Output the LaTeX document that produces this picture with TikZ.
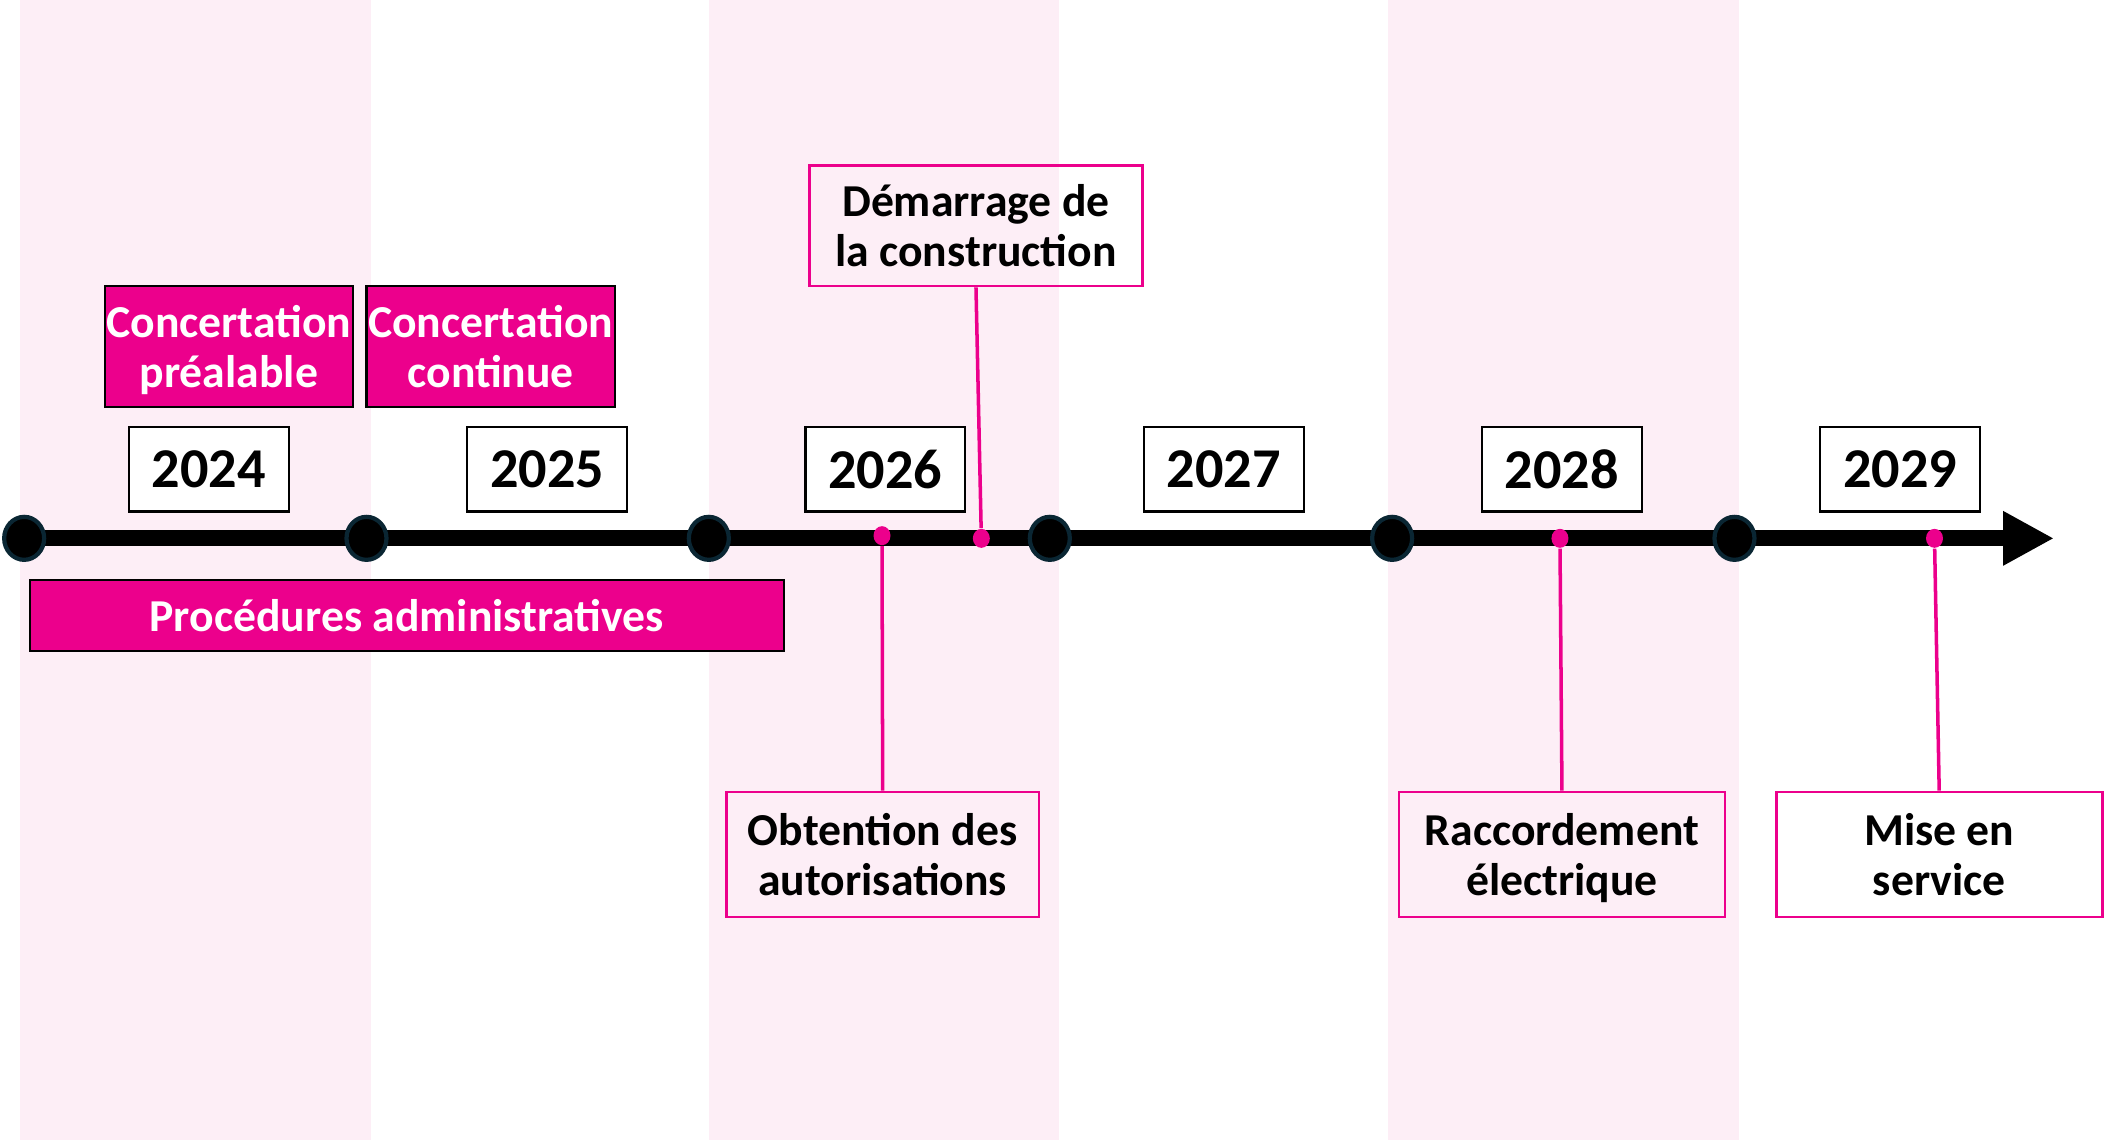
\documentclass[tikz,border=0pt]{standalone}
\usepackage{fontspec}
\setmainfont{Carlito}
\usetikzlibrary{arrows.meta,shapes.geometric}
\definecolor{rosevif}{RGB}{236,0,140}
\definecolor{rosepale}{RGB}{253,238,246}
\definecolor{nuit}{RGB}{10,38,51}
\newcommand\ligne{\rule[-0.18\baselineskip]{0pt}{0.99\baselineskip}}
\begin{document}
\begin{tikzpicture}[x=0.013425cm, y=-0.013425cm,
    annee/.style={draw=black, fill=white, line width=0.6pt, minimum width=1.598cm, minimum height=0.846cm, inner sep=0pt, font=\fontsize{16}{18}\selectfont\bfseries},
    phase/.style={draw=black, fill=rosevif, text=white, line width=0.6pt, align=center, inner sep=0pt, font=\fontsize{13}{14.2}\selectfont\bfseries},
    jalon/.style={draw=rosevif, line width=0.8pt, align=center, inner sep=0pt, font=\fontsize{13}{14.2}\selectfont\bfseries},
    grospoint/.style={ellipse, fill=black, draw=nuit, line width=1.2pt, minimum width=0.40cm, minimum height=0.43cm, inner sep=0pt},
    petitpoint/.style={ellipse, fill=rosevif, minimum width=0.17cm, minimum height=0.19cm, inner sep=0pt},
    lien/.style={draw=rosevif, line width=1pt}]
  \useasboundingbox (0,0) rectangle (1568,849);
  \foreach \x in {15,528,1034}
    \fill[rosepale] (\x,0) rectangle ++(261,849);
  \draw[line width=4.6pt, -{Triangle[length=0.51cm,width=0.51cm]}] (18,401) -- (1530,401);
  \foreach \x [count=\i] in {18,273,528,782,1037,1292}
    \node[grospoint] (g\i) at (\x,401) {};
  \foreach \an [count=\i from 0] in {2024,...,2029}
    \node[annee] (a\an) at (155.5+252*\i,349.5) {\an};
  % phases
  \node[phase, minimum width=2.484cm, minimum height=1.208cm] (prealable) at (170.5,258) {\ligne Concertation\\\ligne préalable};
  \node[phase, minimum width=2.484cm, minimum height=1.208cm] (continue) at (365.5,258) {\ligne Concertation\\\ligne continue};
  \node[phase, minimum width=7.545cm, minimum height=0.712cm] (procedures) at (303,458.5) {\ligne Procédures administratives};
  % jalons
  \node[jalon, minimum width=3.329cm, minimum height=1.208cm] (demarrage) at (727,168) {\ligne Démarrage de\\\ligne la construction};
  \node[jalon, minimum width=3.128cm, minimum height=1.249cm] (obtention) at (657.5,636.5) {\ligne Obtention des\\\ligne autorisations};
  \node[jalon, minimum width=3.262cm, minimum height=1.249cm] (raccordement) at (1163.5,636.5) {\ligne Raccordement\\\ligne électrique};
  \node[jalon, minimum width=3.262cm, minimum height=1.249cm] (miseservice) at (1444.5,636.5) {\ligne Mise en\\\ligne service};
  \node[petitpoint] (pobtention) at (657,399) {};
  \node[petitpoint] (pdemarrage) at (731,401) {};
  \node[petitpoint] (praccordement) at (1162,401) {};
  \node[petitpoint] (pmiseservice) at (1441,401) {};
  \draw[lien] (demarrage.south) -- (pdemarrage);
  \draw[lien] (pobtention) -- (obtention.north);
  \draw[lien] (praccordement) -- (raccordement.north);
  \draw[lien] (pmiseservice) -- (miseservice.north);
\end{tikzpicture}
\end{document}
